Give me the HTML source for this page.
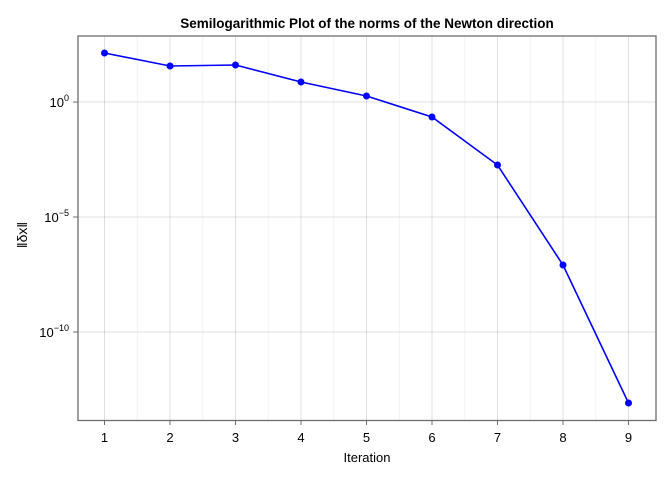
<!DOCTYPE html>
<html><head><meta charset="utf-8"><style>
html,body{margin:0;padding:0;background:#fff;}
svg{display:block;font-family:"Liberation Sans","DejaVu Sans",sans-serif;}
</style></head><body>
<svg width="672" height="480" viewBox="0 0 672 480" xmlns="http://www.w3.org/2000/svg">
<rect width="672" height="480" fill="#fff"/>
<g stroke="#000" stroke-opacity="0.05" stroke-width="1">
<line x1="137.3" y1="36" x2="137.3" y2="420"/><line x1="202.8" y1="36" x2="202.8" y2="420"/>
<line x1="268.3" y1="36" x2="268.3" y2="420"/><line x1="333.8" y1="36" x2="333.8" y2="420"/>
<line x1="399.3" y1="36" x2="399.3" y2="420"/><line x1="464.8" y1="36" x2="464.8" y2="420"/>
<line x1="530.3" y1="36" x2="530.3" y2="420"/><line x1="595.8" y1="36" x2="595.8" y2="420"/>
</g>
<g stroke="#000" stroke-opacity="0.12" stroke-width="1">
<line x1="104.5" y1="36" x2="104.5" y2="420"/><line x1="170" y1="36" x2="170" y2="420"/>
<line x1="235.5" y1="36" x2="235.5" y2="420"/><line x1="301" y1="36" x2="301" y2="420"/>
<line x1="366.5" y1="36" x2="366.5" y2="420"/><line x1="432" y1="36" x2="432" y2="420"/>
<line x1="497.5" y1="36" x2="497.5" y2="420"/><line x1="563" y1="36" x2="563" y2="420"/>
<line x1="628.5" y1="36" x2="628.5" y2="420"/>
<line x1="78" y1="102" x2="656" y2="102"/><line x1="78" y1="217" x2="656" y2="217"/><line x1="78" y1="332" x2="656" y2="332"/>
</g>
<rect x="78" y="36" width="578" height="384.5" fill="none" stroke="#6e6e6e" stroke-width="1.3"/>
<g stroke="#6e6e6e" stroke-width="1">
<line x1="104.5" y1="420.5" x2="104.5" y2="425"/><line x1="170" y1="420.5" x2="170" y2="425"/>
<line x1="235.5" y1="420.5" x2="235.5" y2="425"/><line x1="301" y1="420.5" x2="301" y2="425"/>
<line x1="366.5" y1="420.5" x2="366.5" y2="425"/><line x1="432" y1="420.5" x2="432" y2="425"/>
<line x1="497.5" y1="420.5" x2="497.5" y2="425"/><line x1="563" y1="420.5" x2="563" y2="425"/>
<line x1="628.5" y1="420.5" x2="628.5" y2="425"/>
<line x1="73" y1="102" x2="78" y2="102"/><line x1="73" y1="217" x2="78" y2="217"/><line x1="73" y1="332" x2="78" y2="332"/>
</g>
<g font-size="13" fill="#000" text-anchor="middle">
<text x="104.5" y="442">1</text><text x="170" y="442">2</text><text x="235.5" y="442">3</text>
<text x="301" y="442">4</text><text x="366.5" y="442">5</text><text x="432" y="442">6</text>
<text x="497.5" y="442">7</text><text x="563" y="442">8</text><text x="628.5" y="442">9</text>
</g>
<g font-size="13" fill="#000" text-anchor="end">
<text x="69" y="107">10<tspan font-size="9" dy="-6">0</tspan></text>
<text x="69" y="222">10<tspan font-size="9" dy="-6">−5</tspan></text>
<text x="69" y="337">10<tspan font-size="9" dy="-6">−10</tspan></text>
</g>
<text x="367" y="462" font-size="13" text-anchor="middle">Iteration</text>
<text transform="translate(27,235) rotate(-90)" font-size="14" text-anchor="middle">‖δx‖</text>
<text x="367" y="28" font-size="13.5" font-weight="bold" text-anchor="middle">Semilogarithmic Plot of the norms of the Newton direction</text>
<polyline fill="none" stroke="#0000ff" stroke-width="1.6" points="104.5,53 170,66 235.5,65 301,82 366.5,96 432,117 497.5,165 563,265 628.5,403"/>
<g fill="#0000ff">
<circle cx="104.5" cy="53" r="3.5"/><circle cx="170" cy="66" r="3.5"/><circle cx="235.5" cy="65" r="3.5"/>
<circle cx="301" cy="82" r="3.5"/><circle cx="366.5" cy="96" r="3.5"/><circle cx="432" cy="117" r="3.5"/>
<circle cx="497.5" cy="165" r="3.5"/><circle cx="563" cy="265" r="3.5"/><circle cx="628.5" cy="403" r="3.5"/>
</g>
</svg>
</body></html>
